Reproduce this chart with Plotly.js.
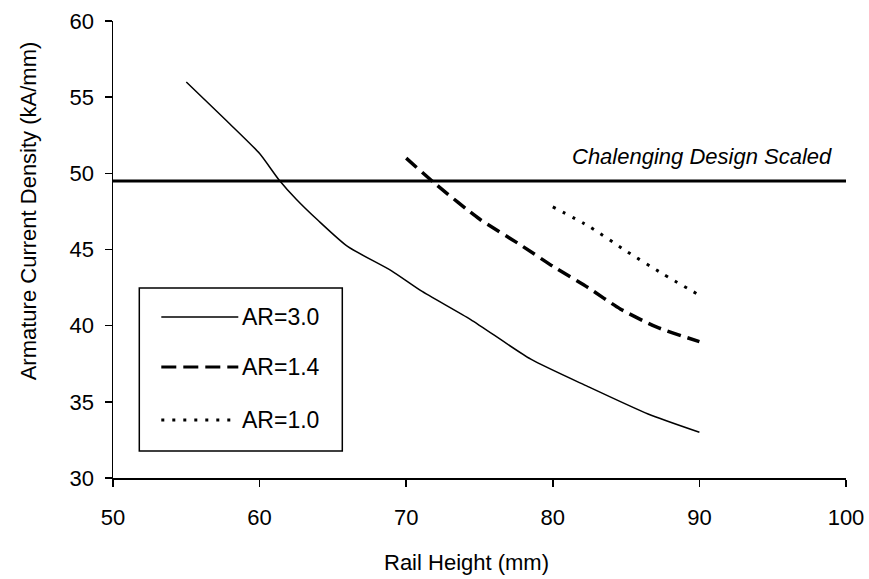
<!DOCTYPE html>
<html>
<head>
<meta charset="utf-8">
<script src="https://cdn.plot.ly/plotly-3.0.1.min.js"></script>
<style>html,body{margin:0;padding:0;background:#fff;}#chart{width:869px;height:579px;}</style>
</head>
<body>
<div id="chart"></div>
<script>
// Data
const ar30X = [55, 57.8, 60, 61.3, 62.5, 64, 66, 69, 71, 74.4, 78.5, 82.4, 86.5, 90];
const ar30Y = [56, 53.4, 51.3, 49.6, 48.3, 46.9, 45.2, 43.6, 42.3, 40.4, 37.8, 36.0, 34.2, 33.0];
const ar14X = [70, 72, 75, 77.8, 80, 82.4, 84.6, 87.1, 90];
const ar14Y = [51, 49.3, 47.0, 45.3, 43.9, 42.5, 41.1, 39.9, 38.95];
const ar10X = [80, 82.5, 85, 87.5, 90];
const ar10Y = [47.8, 46.5, 44.9, 43.4, 42.0];
const designX = [50, 100];
const designY = [49.5, 49.5];
const seriesNames = ["AR=3.0", "AR=1.4", "AR=1.0"];
const designLabel = "Chalenging Design Scaled";
const xTitle = "Rail Height (mm)";
const yTitle = "Armature Current Density (kA/mm)";

const FONT = "Liberation Sans, Arial, sans-serif";

const traces = [
  {x: designX, y: designY, mode: "lines", name: designLabel, line: {color: "#000", width: 3}, showlegend: false},
  {x: ar30X, y: ar30Y, mode: "lines", name: seriesNames[0], line: {color: "#000", width: 1.5, shape: "spline", smoothing: 0.6}},
  {x: ar14X, y: ar14Y, mode: "lines", name: seriesNames[1], line: {color: "#000", width: 3.5, dash: "14px,7px", shape: "spline", smoothing: 0.6}},
  {x: ar10X, y: ar10Y, mode: "lines", name: seriesNames[2], line: {color: "#000", width: 3, dash: "3px,8px", shape: "spline", smoothing: 0.6}}
];

// pixel -> paper helpers for legend box placement
const L = 112.7, R = 845.7, T = 21, B = 478;
const px = v => (v - L) / (R - L);
const py = v => (B - v) / (B - T);

const legendRows = [317, 367, 420];
const legendDash = ["solid", "15px,7px", "3px,8px"];
const legendWidth = [1.5, 3, 3];

const shapes = [
  {type: "rect", xref: "paper", yref: "paper", x0: px(139), x1: px(342), y0: py(451), y1: py(288),
   line: {color: "#000", width: 1.5}, fillcolor: "rgba(0,0,0,0)"}
];
const annotations = [
  {x: 99.15, y: 51.1, xref: "x", yref: "y", text: designLabel, showarrow: false, xanchor: "right", yanchor: "middle",
   font: {family: FONT, size: 22, color: "#000", style: "italic"}},
  {x: px(28), y: py(211), xref: "paper", yref: "paper", text: yTitle, textangle: -90, showarrow: false,
   xanchor: "center", yanchor: "middle", font: {family: FONT, size: 22, color: "#000"}},
  {x: px(466), y: py(562), xref: "paper", yref: "paper", text: xTitle, showarrow: false,
   xanchor: "center", yanchor: "middle", font: {family: FONT, size: 22, color: "#000"}}
];
seriesNames.forEach((n, i) => {
  shapes.push({type: "line", xref: "paper", yref: "paper", x0: px(161), x1: px(238), y0: py(legendRows[i]), y1: py(legendRows[i]),
    line: {color: "#000", width: legendWidth[i], dash: legendDash[i]}});
  annotations.push({x: px(240), y: py(legendRows[i]), xref: "paper", yref: "paper", text: n, showarrow: false,
    xanchor: "left", yanchor: "middle", font: {family: FONT, size: 23, color: "#000"}});
});

const layout = {
  width: 869, height: 579,
  margin: {l: L, r: 869 - R, t: T, b: 579 - B},
  paper_bgcolor: "#fff", plot_bgcolor: "#fff",
  showlegend: false,
  font: {family: FONT, size: 22, color: "#000"},
  xaxis: {
    range: [50, 100], tickvals: [50, 60, 70, 80, 90, 100],
    showline: true, linecolor: "#000", linewidth: 2, showgrid: false, zeroline: false,
    ticks: "outside", ticklen: 7, tickwidth: 1.5, tickcolor: "#000",
    ticklabelstandoff: 12,
    tickfont: {family: FONT, size: 22, color: "#000"}
  },
  yaxis: {
    range: [30, 60], tickvals: [30, 35, 40, 45, 50, 55, 60],
    showline: true, linecolor: "#000", linewidth: 1.5, showgrid: false, zeroline: false,
    ticks: "outside", ticklen: 7, tickwidth: 1.5, tickcolor: "#000",
    ticklabelstandoff: 6,
    tickfont: {family: FONT, size: 22, color: "#000"}
  },
  shapes: shapes,
  annotations: annotations
};

Plotly.newPlot("chart", traces, layout, {displayModeBar: false, staticPlot: true});
</script>
</body>
</html>
